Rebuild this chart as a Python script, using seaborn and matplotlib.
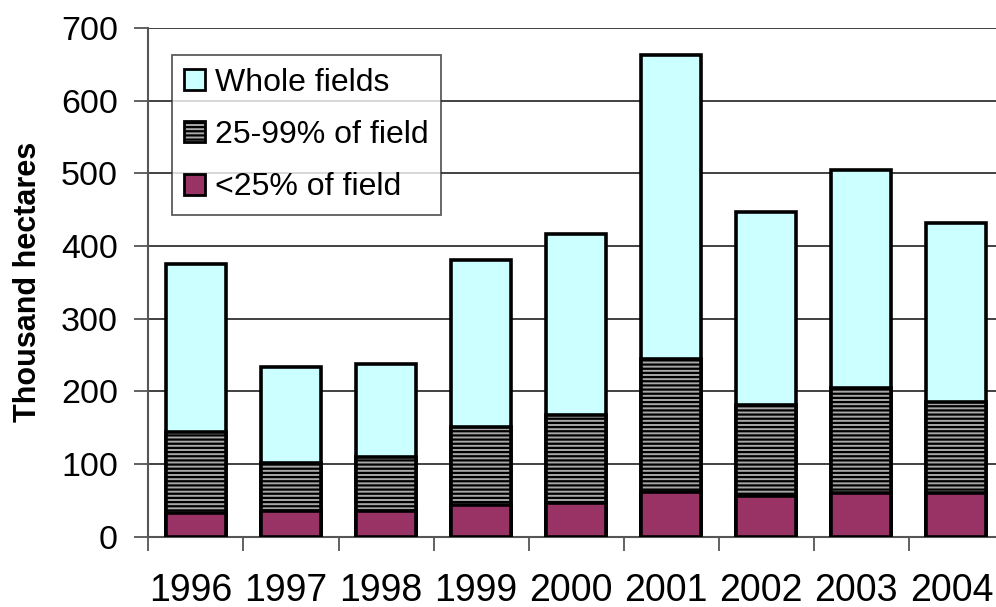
import matplotlib
matplotlib.use("Agg")
import matplotlib.pyplot as plt
import matplotlib.transforms as mtransforms
import seaborn as sns
import pandas as pd
import numpy as np
from matplotlib.patches import Patch

years = ["1996", "1997", "1998", "1999", "2000", "2001", "2002", "2003", "2004"]
lt25 = [33, 36, 36, 43, 47, 62, 56, 60, 60]
p25_99 = [111, 66, 73, 108, 121, 182, 125, 145, 125]
whole = [231, 131, 129, 230, 248, 419, 266, 300, 247]
labels = ["Whole fields", "25-99% of field", "<25% of field"]

sns.set_theme(style="white")
plt.rcParams["font.family"] = ["Liberation Sans", "DejaVu Sans"]
plt.rcParams["hatch.linewidth"] = 1.6

c_whole = "#ccffff"
c_mid = "#a8a8a8"
c_low = "#993366"

df = pd.DataFrame({"year": years, "low": lt25, "mid": p25_99, "whole": whole})
df["cum_mid"] = df["low"] + df["mid"]
df["total"] = df["cum_mid"] + df["whole"]

fig = plt.figure(figsize=(9.96, 6.07), dpi=100)
ax = fig.add_axes([0.149, 0.1158, 0.859, 0.8382])

bw = 0.63
sns.barplot(data=df, x="year", y="total", color=c_whole, width=bw, saturation=1,
            edgecolor="black", linewidth=2.6, ax=ax, zorder=3)
sns.barplot(data=df, x="year", y="cum_mid", color=c_mid, width=bw, saturation=1,
            edgecolor="black", linewidth=2.6, hatch="----", ax=ax, zorder=4)
sns.barplot(data=df, x="year", y="low", color=c_low, width=bw, saturation=1,
            edgecolor="black", linewidth=2.6, ax=ax, zorder=5)

ax.set_ylim(0, 700)
ax.set_xlim(-0.5, 8.5)
ax.set_yticks(np.arange(0, 701, 100))
ax.yaxis.grid(True, color="#333333", linewidth=1.3, zorder=0)
ax.set_axisbelow(True)

for s in ["top", "right"]:
    ax.spines[s].set_visible(False)
ax.spines["left"].set_color("#555555")
ax.spines["left"].set_linewidth(1.5)
ax.spines["bottom"].set_color("#555555")
ax.spines["bottom"].set_linewidth(1.5)

ax.tick_params(axis="y", which="major", left=True, length=10, width=1.3,
               color="#555555", pad=12, labelsize=24.5, labelcolor="black")
ax.set_xticks(np.arange(-0.5, 9, 1), minor=True)
ax.tick_params(axis="x", which="minor", bottom=True, length=10, width=1.3, color="#555555")
ax.tick_params(axis="x", which="major", bottom=False, length=0, pad=26, labelsize=27,
               labelcolor="black")
shift = mtransforms.ScaledTranslation(-5 / 100, 0, fig.dpi_scale_trans)
for lab in ax.get_xticklabels():
    lab.set_transform(lab.get_transform() + shift)

ax.set_xlabel("")
ax.set_ylabel("Thousand hectares", fontsize=22, fontweight="bold", color="black")
ax.yaxis.set_label_coords(-0.123, 0.5)

handles = [
    Patch(facecolor=c_whole, edgecolor="black", linewidth=2),
    Patch(facecolor=c_mid, edgecolor="black", linewidth=2, hatch="----"),
    Patch(facecolor=c_low, edgecolor="black", linewidth=2),
]
leg = ax.legend(handles, labels, loc="upper left", bbox_to_anchor=(0.027, 0.947),
                fontsize=23, frameon=True, fancybox=False, edgecolor="#333333",
                handlelength=0.65, handleheight=0.65, handletextpad=0.3,
                labelspacing=0.7, borderpad=0.4, borderaxespad=0)
for t in leg.get_texts():
    t.set_color("black")
leg.get_frame().set_linewidth(1.3)
leg.set_zorder(10)

fig.savefig("out.png", dpi=100)
